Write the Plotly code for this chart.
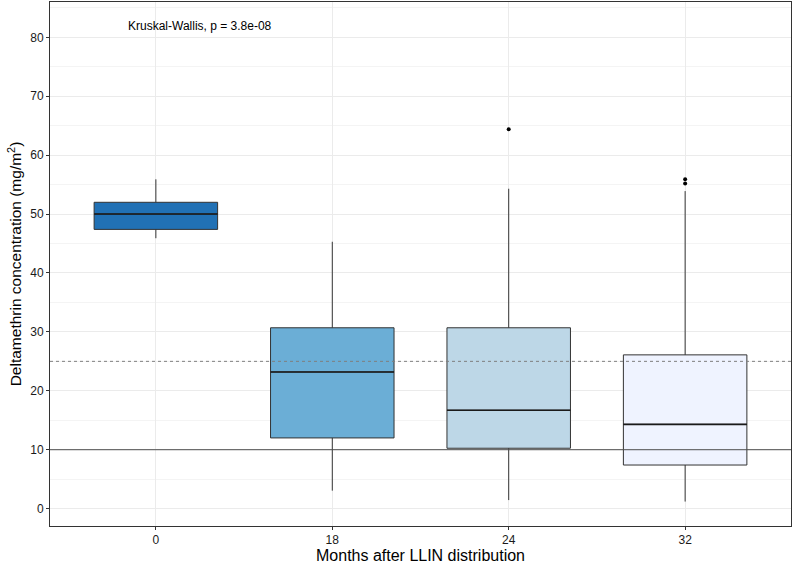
import plotly.graph_objects as go

categories = ["0", "18", "24", "32"]
q1 = [47.4, 12.0, 10.25, 7.4]
median = [50.0, 23.2, 16.7, 14.3]
q3 = [52.0, 30.7, 30.7, 26.1]
lower = [45.9, 3.05, 1.45, 1.2]
upper = [55.9, 45.3, 54.3, 53.9]
colors = ["#2171b5", "#6baed6", "#bdd7e7", "#eff3ff"]
outlier_cat = ["24", "32", "32"]
outlier_val = [64.4, 55.9, 55.2]
thresh_solid = 10
thresh_dashed = 25
annot_text = "Kruskal-Wallis, p = 3.8e-08"

pos = {c: i + 1 for i, c in enumerate(categories)}
BW = 0.7
fig = go.Figure()
for i, c in enumerate(categories):
    fig.add_trace(go.Box(
        x=[pos[c]], q1=[q1[i]], median=[median[i]], q3=[q3[i]],
        lowerfence=[lower[i]], upperfence=[upper[i]],
        fillcolor=colors[i], line=dict(color="#333333", width=1),
        whiskerwidth=0, width=BW, boxpoints=False, showlegend=False,
        hoverinfo="skip"))
    fig.add_trace(go.Scatter(
        x=[pos[c] - BW / 2, pos[c] + BW / 2], y=[median[i], median[i]],
        mode="lines", line=dict(color="#1a1a1a", width=1.6),
        showlegend=False, hoverinfo="skip"))

fig.add_trace(go.Scatter(
    x=[pos[c] for c in outlier_cat], y=outlier_val, mode="markers",
    marker=dict(color="black", size=4), showlegend=False))

fig.add_shape(type="line", xref="paper", x0=0, x1=1, yref="y",
              y0=thresh_solid, y1=thresh_solid,
              line=dict(color="#4d4d4d", width=1), layer="above")
fig.add_shape(type="line", xref="paper", x0=0, x1=1, yref="y",
              y0=thresh_dashed, y1=thresh_dashed,
              line=dict(color="#7f7f7f", width=1, dash="3px,3px"), layer="above")

fig.add_annotation(x=1.25, y=82, text=annot_text, showarrow=False,
                   xanchor="center", yanchor="middle",
                   font=dict(size=12, color="black", family="Liberation Sans, Arial"))

fig.update_layout(
    width=797, height=565,
    margin=dict(l=50, r=6, t=2, b=39),
    paper_bgcolor="white", plot_bgcolor="white",
    font=dict(family="Liberation Sans, Arial", color="black"),
    xaxis=dict(range=[0.4, 4.6], tickvals=[1, 2, 3, 4], ticktext=categories,
               automargin=False,
               showgrid=True, gridcolor="#ebebeb", gridwidth=1,
               zeroline=False, showline=True, mirror=True, linecolor="#333333",
               linewidth=1, ticks="outside", ticklen=3, tickcolor="#333333",
               tickfont=dict(size=12, color="#1a1a1a"),
               title=dict(text="Months after LLIN distribution",
                          font=dict(size=16), standoff=0)),
    yaxis=dict(range=[-2.95, 86.0], tickvals=[0, 10, 20, 30, 40, 50, 60, 70, 80],
               automargin=False,
               showgrid=True, gridcolor="#ebebeb", gridwidth=1,
               minor=dict(tickvals=[5, 15, 25, 35, 45, 55, 65, 75, 85],
                          showgrid=True, gridcolor="#f4f4f4", gridwidth=1),
               zeroline=False, showline=True, mirror=True, linecolor="#333333",
               linewidth=1, ticks="outside", ticklen=3, tickcolor="#333333",
               tickfont=dict(size=12, color="#1a1a1a"),
               title=dict(text="Deltamethrin concentration (mg/m<sup>2</sup>)",
                          font=dict(size=15.5), standoff=4)),
)

fig.write_html("out.html", config={"displayModeBar": False},
               post_script="document.body.style.margin='0';")
